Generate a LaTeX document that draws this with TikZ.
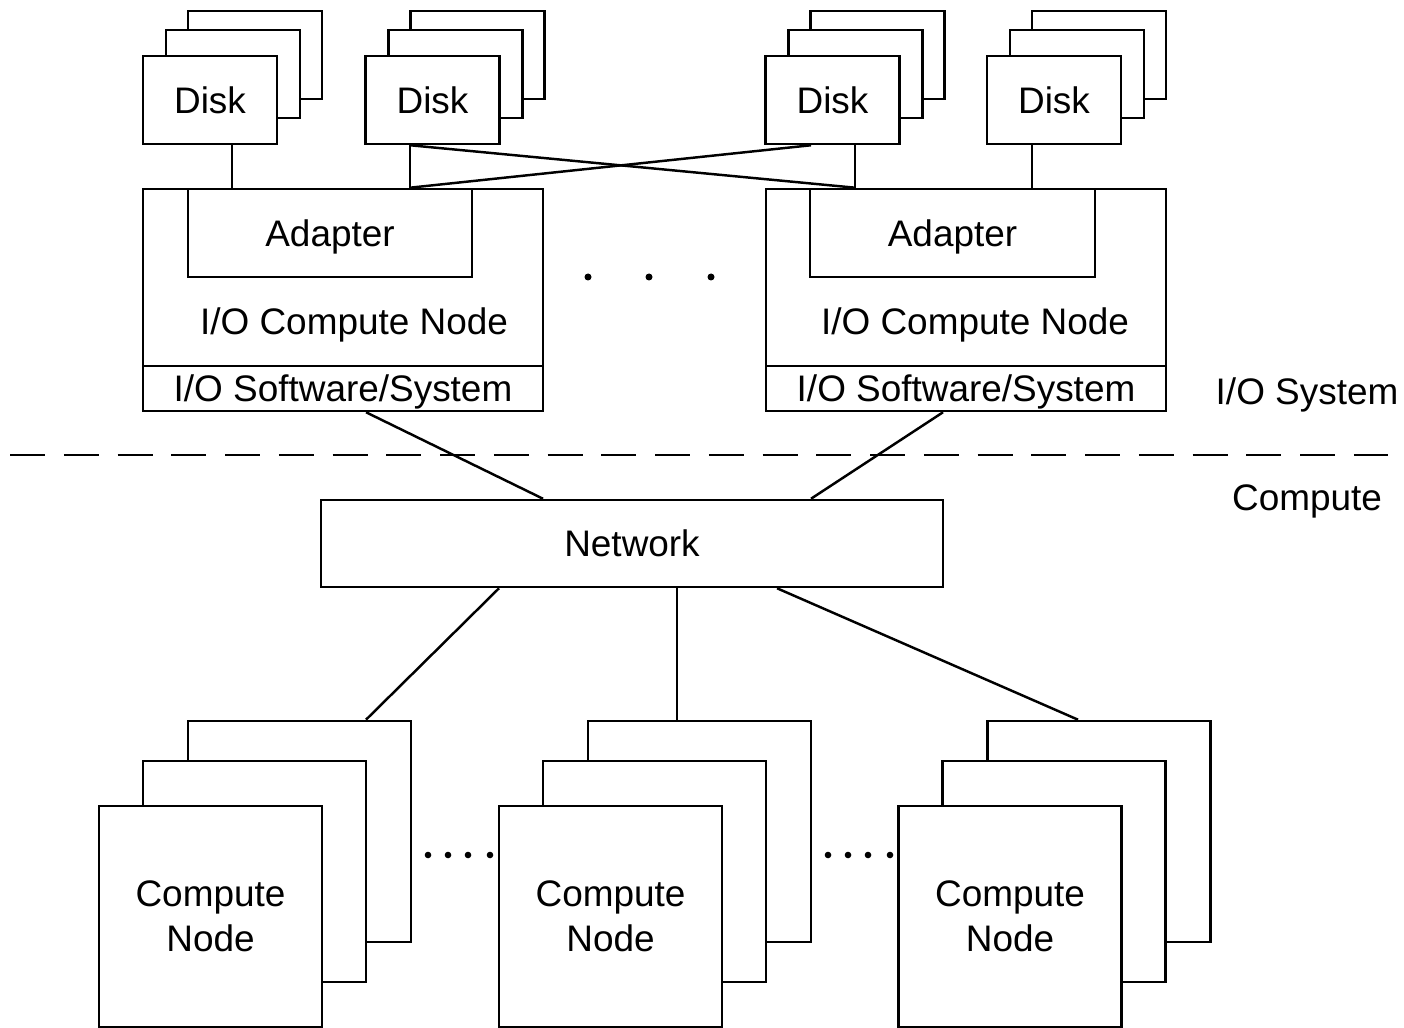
\documentclass[tikz,border=0pt]{standalone}
\usepackage{fontspec}
\setmainfont{Liberation Sans}
\usetikzlibrary{calc}
\tikzset{
  box/.style={draw, fill=white, inner sep=0pt, line width=0.7pt, text depth=0pt},
  lbl/.style={font=\fontsize{10.5}{12.8}\selectfont},
  conn/.style={line width=0.7pt},
  diskbox/.style={box, lbl, minimum width=1.34cm, minimum height=0.88cm},
  cnbox/.style={box, lbl, align=center, minimum width=2.23cm, minimum height=2.21cm},
  sepline/.style={line width=0.7pt, dash pattern=on 0.35cm off 0.1872cm}
}
\newcommand{\diskstack}[3]{%
  \node[diskbox] (#1c) at (#2+45,#3-45) {};
  \node[diskbox] (#1b) at (#2+23,#3-26) {};
  \node[diskbox] (#1) at (#2,#3) {Disk};
}
\newcommand{\cnstack}[3]{%
  \node[cnbox] (#1c) at (#2+89,#3-85) {};
  \node[cnbox] (#1b) at (#2+44,#3-45) {};
  \node[cnbox] (#1) at (#2,#3) {Compute\\Node};
}
\begin{document}
\begin{tikzpicture}[x=0.01cm, y=-0.01cm]
\useasboundingbox (0,0) rectangle (1404,1028);

% disks
\diskstack{d1}{210}{100}
\diskstack{d2}{432.5}{100}
\diskstack{d3}{832.5}{100}
\diskstack{d4}{1054}{100}

% I/O compute nodes
\node[box, minimum width=4cm, minimum height=2.22cm] (io1) at (343,300) {};
\node[box, lbl, minimum width=2.84cm, minimum height=0.88cm] (ad1) at (330,233) {Adapter};
\node[lbl, anchor=center, text depth=0pt] (ion1) at (354,321) {I/O Compute Node};
\node[box, lbl, minimum width=4cm, minimum height=0.45cm] (sw1) at (343,388.5) {I/O Software/System};

\node[box, minimum width=4cm, minimum height=2.22cm] (io2) at (966,300) {};
\node[box, lbl, minimum width=2.85cm, minimum height=0.88cm] (ad2) at (952.5,233) {Adapter};
\node[lbl, anchor=center, text depth=0pt] (ion2) at (975,321) {I/O Compute Node};
\node[box, lbl, minimum width=4cm, minimum height=0.45cm] (sw2) at (966,388.5) {I/O Software/System};

% network
\node[box, lbl, minimum width=6.22cm, minimum height=0.87cm] (net) at (632,543.5) {Network};

% compute nodes
\cnstack{cn1}{210.5}{916.5}
\cnstack{cn2}{610.5}{916.5}
\cnstack{cn3}{1010}{916.5}

% tap x positions
\coordinate (xa) at (232,0);
\coordinate (xb) at (410,0);
\coordinate (xc) at (811,0);
\coordinate (xd) at (855,0);
\coordinate (xe) at (1032,0);
\coordinate (xf) at (366,0);
\coordinate (xg) at (543,0);
\coordinate (xh) at (943,0);
\coordinate (xi) at (499,0);
\coordinate (xj) at (677,0);
\coordinate (xk) at (777,0);
\coordinate (xl) at (1078,0);

% disk connectors
\draw[conn] (d1.south -| xa) -- (io1.north -| xa);
\draw[conn] (d2.south -| xb) -- (io1.north -| xb);
\draw[conn] (d2.south -| xb) -- (io2.north -| xd);
\draw[conn] (d3.south -| xc) -- (io1.north -| xb);
\draw[conn] (d3.south -| xd) -- (io2.north -| xd);
\draw[conn] (d4.south -| xe) -- (io2.north -| xe);

% I/O to network
\draw[conn] (sw1.south -| xf) -- (net.north -| xg);
\draw[conn] (sw2.south -| xh) -- (net.north -| xc);

% network to compute
\draw[conn] (net.south -| xi) -- (cn1c.north -| xf);
\draw[conn] (net.south -| xj) -- (cn2c.north -| xj);
\draw[conn] (net.south -| xk) -- (cn3c.north -| xl);

% separator
\coordinate (dl) at (10,455);
\coordinate (dr) at (1388,455);
\draw[sepline] (dl) -- (dr);

\node[lbl, anchor=base] (iosys) at (1307,405) {I/O System};
\node[lbl, anchor=base] (comp) at (1307,510) {Compute};

% ellipsis dots
\foreach \x in {588,649,711} \fill (\x,277) circle (3.5);
\foreach \x in {428,448,468,490,828,848,868,890} \fill (\x,855) circle (3.3);
\end{tikzpicture}
\end{document}
